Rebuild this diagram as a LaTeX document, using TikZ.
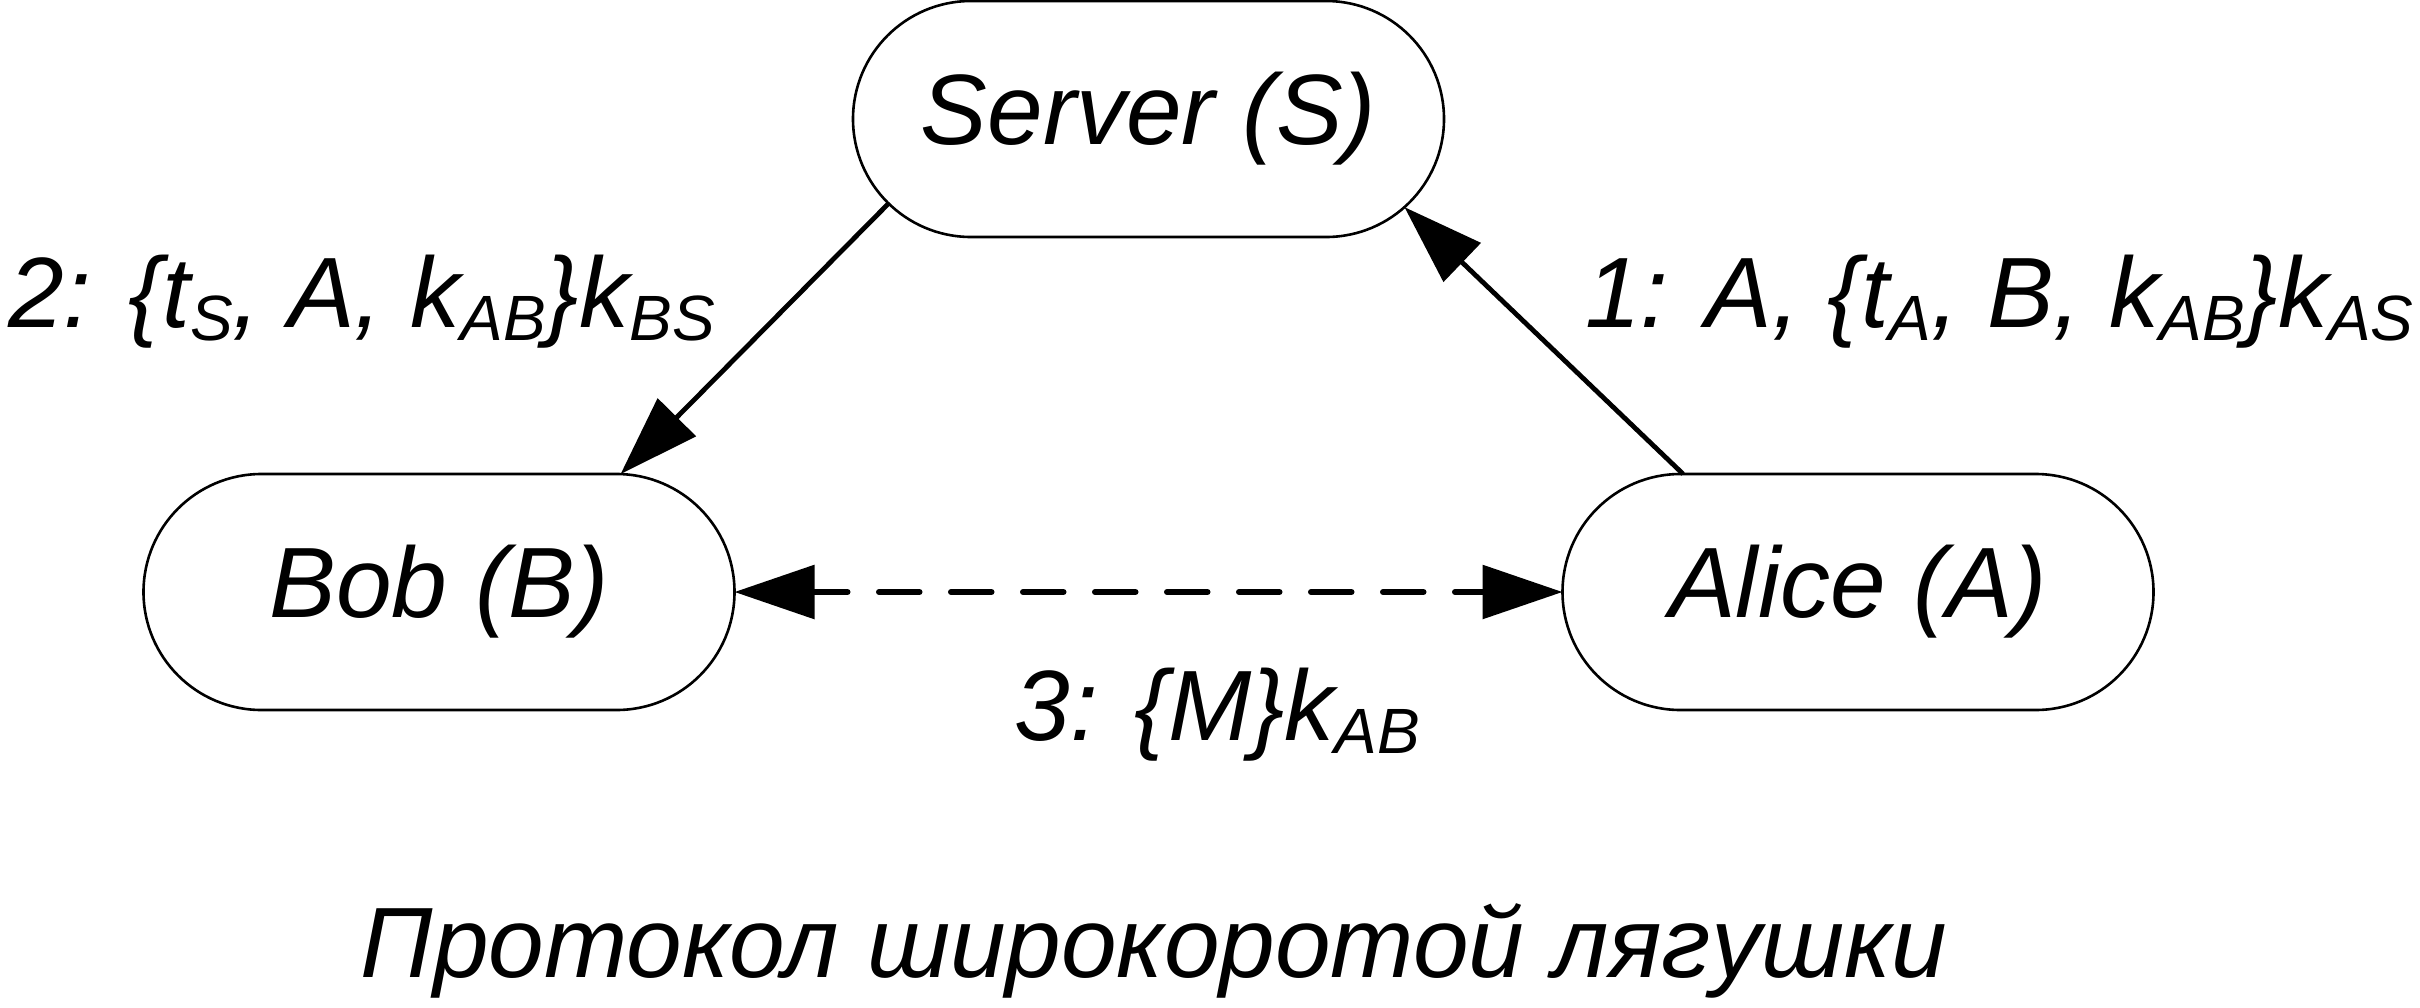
\documentclass[tikz,border=0pt]{standalone}
\usepackage{fontspec}
\setmainfont{Liberation Sans}
\usetikzlibrary{shapes.misc,arrows.meta}
\newcommand\lowsub[1]{\raisebox{-6.5pt}{\fontsize{32pt}{36pt}\selectfont #1}}
\tikzset{
  term/.style={rounded rectangle, draw, line width=1.3pt, minimum width=295.5pt,
    minimum height=118pt, inner sep=0pt, outer sep=0pt,
    font=\fontsize{50pt}{60pt}\selectfont\itshape},
  lbl/.style={inner sep=0pt, font=\fontsize{50pt}{60pt}\selectfont\itshape},
  conn/.style={line width=2.4pt, -{Triangle[length=40pt,width=26.5pt]}},
  dconn/.style={line width=3pt, line cap=round, dash pattern=on 20.25pt off 15.75pt,
    dash phase=3pt, {Triangle[length=40pt,width=26.5pt]}-{Triangle[length=40pt,width=26.5pt]}}
}
\begin{document}
\begin{tikzpicture}[x=0.5pt,y=-0.5pt]
\useasboundingbox (0,0) rectangle (2420,1007);
\node[term] (S) at (1148.5,119) {Server (S)};
\node[term] (B) at (439,592) {Bob (B)};
\node[term] (A) at (1858,592) {Alice (A)};
\draw[conn] (S.198.7) -- (B.33.5);
\draw[conn] (A.146.3) -- (S.341.3);
\draw[dconn] (B.east) -- (A.west);
\node[lbl, anchor=base west] (l2) at (8,327) {2: \{t\lowsub{S}, A, k\lowsub{AB}\}k\lowsub{BS}};
\node[lbl, anchor=base east] (l1) at (2414,327) {1: A, \{t\lowsub{A}, B, k\lowsub{AB}\}k\lowsub{AS}};
\node[lbl, anchor=base west] (l3) at (1014,740) {3: \{M\}k\lowsub{AB}};
\node[lbl, anchor=base] (cap) at (1154,977) {Протокол широкоротой лягушки};
\end{tikzpicture}
\end{document}
